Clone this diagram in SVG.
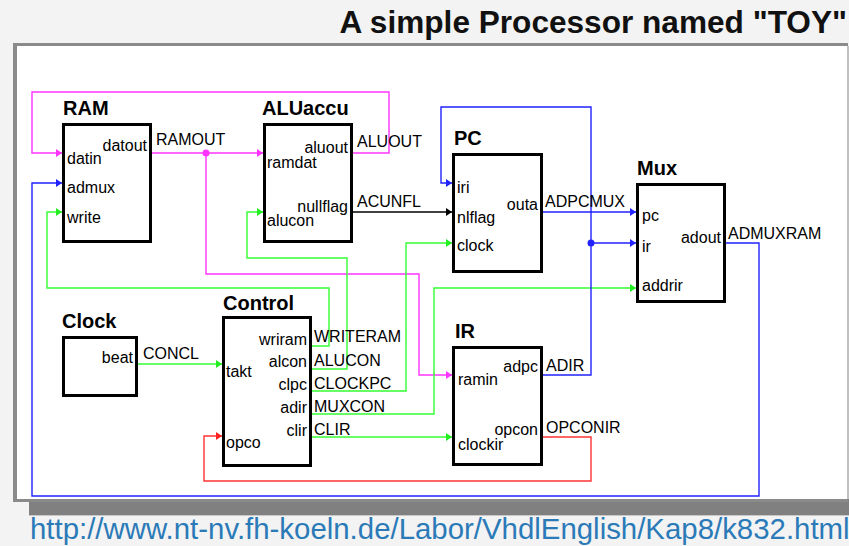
<svg xmlns="http://www.w3.org/2000/svg" width="849" height="546" viewBox="0 0 849 546">
<style>
.bg{fill:#f3f3f3}
.box{fill:#fff;stroke:#000;stroke-width:3}
.ttl{font-family:"Liberation Sans",Arial,sans-serif;font-weight:bold;font-size:20px;fill:#000}
.p{font-family:"Liberation Sans",Arial,sans-serif;font-size:16px;fill:#000}
.e{text-anchor:end}
.w{fill:none;stroke-width:1.4;stroke-linejoin:miter}
.mg{stroke:#ff33ff}
.gr{stroke:#33ff33}
.bl{stroke:#2222ff}
.rd{stroke:#ff3333}
.bk{stroke:#000}
</style>
<defs>
<marker id="aM" markerUnits="userSpaceOnUse" markerWidth="7" markerHeight="9" refX="6" refY="4" orient="auto"><path d="M0,0 L6,4 L0,8 z" fill="#ff33ff"/></marker>
<marker id="aG" markerUnits="userSpaceOnUse" markerWidth="7" markerHeight="9" refX="6" refY="4" orient="auto"><path d="M0,0 L6,4 L0,8 z" fill="#22ee22"/></marker>
<marker id="aB" markerUnits="userSpaceOnUse" markerWidth="7" markerHeight="9" refX="6" refY="4" orient="auto"><path d="M0,0 L6,4 L0,8 z" fill="#2222ff"/></marker>
<marker id="aR" markerUnits="userSpaceOnUse" markerWidth="7" markerHeight="9" refX="6" refY="4" orient="auto"><path d="M0,0 L6,4 L0,8 z" fill="#ff2222"/></marker>
<marker id="aK" markerUnits="userSpaceOnUse" markerWidth="7" markerHeight="9" refX="6" refY="4" orient="auto"><path d="M0,0 L6,4 L0,8 z" fill="#000"/></marker>
</defs>

<rect class="bg" x="0" y="0" width="849" height="546"/>
<text x="847" y="33" text-anchor="end" font-family="'Liberation Sans',Arial,sans-serif" font-weight="bold" font-size="31.6" fill="#111">A simple Processor named "TOY"</text>

<g id="frame">
<rect x="29" y="499" width="820" height="16" fill="#808080"/>
<rect x="29" y="515" width="820" height="1" fill="#c8c8c8"/>
<rect x="13" y="43" width="835" height="459" fill="#8a8a8a"/>
<rect x="17" y="46" width="830" height="453" fill="#fff"/>
<rect x="847" y="46" width="2" height="453" fill="#c0c0c0"/>
</g>

<g id="connectors">
<path class="w mg" d="M353,153 H389 V92 H32 V153 H62" marker-end="url(#aM)"/>
<path class="w mg" d="M152,153 H263" marker-end="url(#aM)"/>
<path class="w mg" d="M206,153 V274 H419 V375 H452" marker-end="url(#aM)"/>
<circle cx="206" cy="153" r="3.5" fill="#ff33ff"/>
<path class="w gr" d="M311,346 H329 V288 H47 V212 H62" marker-end="url(#aG)"/>
<path class="w gr" d="M311,369 H347 V258 H247 V212 H263" marker-end="url(#aG)"/>
<path class="w gr" d="M311,391 H406 V243 H452" marker-end="url(#aG)"/>
<path class="w gr" d="M311,414 H434 V288 H636" marker-end="url(#aG)"/>
<path class="w gr" d="M311,437 H452" marker-end="url(#aG)"/>
<path class="w gr" d="M137,364 H222" marker-end="url(#aG)"/>
<path class="w rd" d="M543,437 H591 V481 H204 V436 H222" marker-end="url(#aR)"/>
<path class="w bl" d="M726,243 H759 V496 H32 V183 H62" marker-end="url(#aB)"/>
<path class="w bl" d="M543,375 H591 V107 H441 V183 H452" marker-end="url(#aB)"/>
<path class="w bl" d="M591,243 H636" marker-end="url(#aB)"/>
<circle cx="591" cy="243" r="3.5" fill="#2222ff"/>
<path class="w bl" d="M543,212 H636" marker-end="url(#aB)"/>
<path class="w bk" d="M353,212 H452" marker-end="url(#aK)"/>
<text class="p" x="156" y="145">RAMOUT</text>
<text class="p" x="357" y="147">ALUOUT</text>
<text class="p" x="357" y="207">ACUNFL</text>
<text class="p" x="545" y="207">ADPCMUX</text>
<text class="p" x="728" y="239">ADMUXRAM</text>
<text class="p" x="143" y="359">CONCL</text>
<text class="p" x="314" y="342">WRITERAM</text>
<text class="p" x="314" y="366">ALUCON</text>
<text class="p" x="314" y="389">CLOCKPC</text>
<text class="p" x="314" y="412">MUXCON</text>
<text class="p" x="314" y="435">CLIR</text>
<text class="p" x="546" y="371">ADIR</text>
<text class="p" x="546" y="433">OPCONIR</text>
</g>

<g id="RAM">
<text class="ttl" x="63" y="115">RAM</text>
<rect class="box" x="63.5" y="124.5" width="87" height="117"/>
<text class="p e" x="147" y="151">datout</text>
<text class="p" x="67" y="164">datin</text>
<text class="p" x="67" y="193">admux</text>
<text class="p" x="67" y="223">write</text>
</g>

<g id="ALUaccu">
<text class="ttl" x="262" y="115">ALUaccu</text>
<rect class="box" x="264.5" y="124.5" width="87" height="117"/>
<text class="p e" x="348" y="153">aluout</text>
<text class="p" x="267" y="168">ramdat</text>
<text class="p e" x="348" y="212">nullflag</text>
<text class="p" x="267" y="226">alucon</text>
</g>

<g id="PC">
<text class="ttl" x="454" y="145">PC</text>
<rect class="box" x="453.5" y="154.5" width="88" height="117"/>
<text class="p" x="457" y="193">iri</text>
<text class="p" x="457" y="223">nlflag</text>
<text class="p" x="457" y="251">clock</text>
<text class="p e" x="538" y="210">outa</text>
</g>

<g id="Mux">
<text class="ttl" x="637" y="175">Mux</text>
<rect class="box" x="637.5" y="184.5" width="87" height="117"/>
<text class="p" x="642" y="221">pc</text>
<text class="p" x="642" y="252">ir</text>
<text class="p" x="642" y="291">addrir</text>
<text class="p e" x="721" y="243">adout</text>
</g>

<g id="Clock">
<text class="ttl" x="62" y="328">Clock</text>
<rect class="box" x="63.5" y="337.5" width="73" height="58"/>
<text class="p e" x="133" y="363">beat</text>
</g>

<g id="Control">
<text class="ttl" x="223" y="310">Control</text>
<rect class="box" x="223.5" y="317.5" width="87" height="148"/>
<text class="p e" x="307" y="345">wriram</text>
<text class="p e" x="307" y="367">alcon</text>
<text class="p e" x="307" y="390">clpc</text>
<text class="p e" x="307" y="413">adir</text>
<text class="p e" x="307" y="436">clir</text>
<text class="p" x="226" y="377">takt</text>
<text class="p" x="226" y="448">opco</text>
</g>

<g id="IR">
<text class="ttl" x="455" y="338">IR</text>
<rect class="box" x="453.5" y="347.5" width="88" height="117"/>
<text class="p e" x="538" y="372">adpc</text>
<text class="p" x="458" y="385">ramin</text>
<text class="p e" x="538" y="435">opcon</text>
<text class="p" x="458" y="450">clockir</text>
</g>

<text x="30" y="539" font-family="'Liberation Sans',Arial,sans-serif" font-size="29.4" fill="#2b7ab8">http://www.nt-nv.fh-koeln.de/Labor/VhdlEnglish/Kap8/k832.html</text>
</svg>
